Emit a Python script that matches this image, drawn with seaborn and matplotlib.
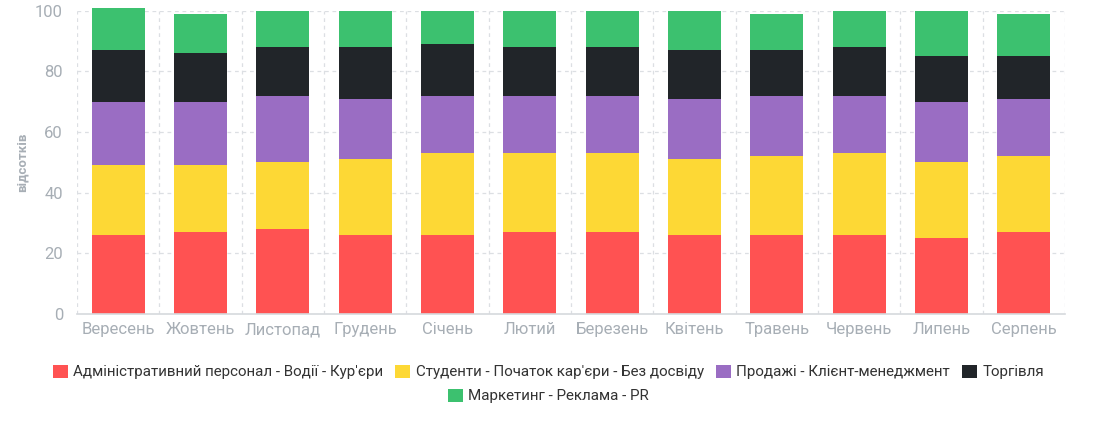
import numpy as np
import pandas as pd
import matplotlib
matplotlib.use("Agg")
import matplotlib.pyplot as plt
import seaborn as sns

months = ["Вересень", "Жовтень", "Листопад", "Грудень", "Січень", "Лютий",
          "Березень", "Квітень", "Травень", "Червень", "Липень", "Серпень"]

series_names = ["Адміністративний персонал - Водії - Кур'єри",
                "Студенти - Початок кар'єри - Без досвіду",
                "Продажі - Клієнт-менеджмент",
                "Торгівля",
                "Маркетинг - Реклама - PR"]

admin = [26, 27, 28, 26, 26, 27, 27, 26, 26, 26, 25, 27]
students = [23, 22, 22, 25, 27, 26, 26, 25, 26, 27, 25, 25]
sales = [21, 21, 22, 20, 19, 19, 19, 20, 20, 19, 20, 19]
trade = [17, 16, 16, 17, 17, 16, 16, 16, 15, 16, 15, 14]
marketing = [14, 13, 12, 12, 11, 12, 12, 13, 12, 12, 15, 14]

colors = ["#ff5252", "#fdd835", "#9a6dc3", "#212529", "#3cc16f"]

sns.set_theme(style="white")
plt.rcParams['font.family'] = ['Roboto', 'DejaVu Sans']

fig = plt.figure(figsize=(10.97, 4.24), dpi=100)
ax = fig.add_axes([77 / 1097, 1 - 314 / 424, (1065 - 77) / 1097, (314 - 10.7) / 424])

bottom = np.zeros(len(months))
for name, vals, col in zip(series_names, [admin, students, sales, trade, marketing], colors):
    df = pd.DataFrame({"month": months, "value": vals})
    sns.barplot(data=df, x="month", y="value", color=col, bottom=bottom,
                width=0.64, ax=ax, saturation=1, linewidth=0, label=name)
    bottom = bottom + np.array(vals)

if ax.get_legend() is not None:
    ax.get_legend().remove()
for p in ax.patches:
    p.set_clip_on(False)

ax.set_ylim(0, 100)
ax.set_xlim(-0.5, len(months) - 0.5)
ax.set_yticks([0, 20, 40, 60, 80, 100])
grid_col = "#dcdfe3"
for y in [20, 40, 60, 80, 100]:
    ax.axhline(y, color=grid_col, lw=0.9, ls=(0, (3, 3)), zorder=0)
for x in np.arange(-0.5, len(months), 1.0):
    ax.axvline(x, color=grid_col, lw=0.9, ls=(0, (3, 3)), zorder=0)

for s in ["top", "right", "left"]:
    ax.spines[s].set_visible(False)
ax.spines["bottom"].set_color("#d6d9dd")
ax.spines["bottom"].set_linewidth(1.2)

tick_col = "#a7aeb5"
ax.tick_params(axis="both", length=0, colors=tick_col, labelsize=12)
ax.tick_params(axis="x", pad=6)
ax.tick_params(axis="y", pad=10)
ax.set_xlabel("")
ax.set_ylabel("відсотків", color=tick_col, fontsize=9.5, fontweight="bold", labelpad=5)

handles, labels = ax.get_legend_handles_labels()
leg_kw = dict(frameon=False, fontsize=10.9, handlelength=1.0, handleheight=1.0,
              handletextpad=0.35, columnspacing=0.8, labelcolor="#333333")
fig.legend(handles[:4], labels[:4], loc="center", ncol=4,
           bbox_to_anchor=(0.5, 1 - 372 / 424), **leg_kw)
fig.legend(handles[4:], labels[4:], loc="center", ncol=1,
           bbox_to_anchor=(0.5, 1 - 396 / 424), **leg_kw)

fig.savefig("out.png", dpi=100)
